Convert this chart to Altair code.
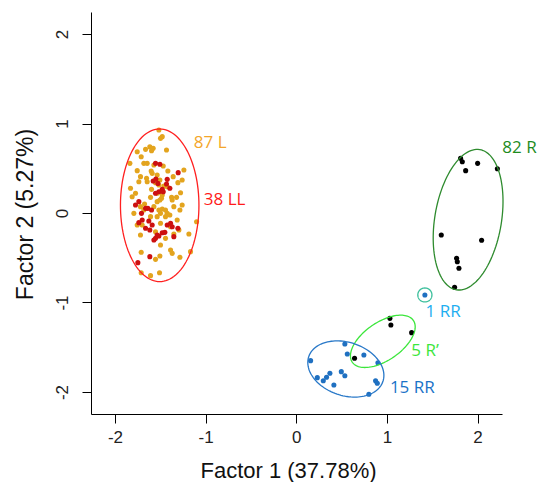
import altair as alt
import pandas as pd
import numpy as np

# ---- data ----
# 87 L (orange)
l_x = [-1.516, -1.479, -1.498, -1.616, -1.579, -1.597, -1.663, -1.432, -1.755, -1.711,
       -1.836, -1.682, -1.645, -1.571, -1.468, -1.240, -1.755, -1.601, -1.417, -1.535,
       -1.652, -1.505, -1.259, -1.306, -1.737, -1.645, -1.553, -1.829, -1.597, -1.535,
       -1.277, -1.479, -1.376, -1.487, -1.811, -1.608, -1.369, -1.505, -1.535, -1.719,
       -1.674, -1.259, -1.351, -1.516, -1.479, -1.443, -1.424, -1.498, -1.792, -1.608,
       -1.395, -1.314, -1.100, -1.755, -1.700, -1.387, -1.553, -1.498, -1.443, -1.351,
       -1.185, -1.719, -1.387, -1.369, -1.505, -1.711, -1.553, -1.284, -1.167, -1.711,
       -1.608, -1.509, -1.516, -1.461, -1.571, -1.443, -1.535, -1.682, -1.284, -1.774,
       -1.424, -1.498, -1.295, -1.590, -1.358, -1.719, -1.321]
l_y = [0.927, 0.853, 0.834, 0.741, 0.723, 0.696, 0.711, 0.704, 0.685, 0.629,
       0.555, 0.555, 0.555, 0.536, 0.525, 0.480, 0.473, 0.469, 0.469, 0.425,
       0.387, 0.369, 0.369, 0.339, 0.350, 0.350, 0.339, 0.276, 0.264, 0.220,
       0.227, 0.201, 0.175, 0.164, 0.182, 0.175, 0.145, 0.145, 0.127, 0.071,
       0.101, 0.089, 0.071, 0.034, 0.045, 0.034, -0.004, -0.004, -0.004, -0.041,
       -0.022, -0.078, -0.097, -0.134, -0.134, -0.153, -0.209, -0.358, -0.283, -0.235,
       -0.235, -0.246, -0.413, -0.451, -0.480, -0.439, -0.518, -0.495, -0.432, -0.667,
       -0.700, -0.667, 0.313, 0.302, 0.071, -0.041, -0.041, 0.034, 0.034, 0.220,
       0.294, -0.115, -0.190, 0.443, 0.406, 0.406, 0.175]
# 38 LL (red)
ll_x = [-1.553, -1.505, -1.303, -1.549, -1.527, -1.479, -1.395, -1.516, -1.553, -1.737,
        -1.774, -1.638, -1.597, -1.708, -1.627, -1.737, -1.424, -1.479, -1.369, -1.663,
        -1.616, -1.351, -1.450, -1.516, -1.553, -1.616, -1.748, -1.579, -1.432, -1.468,
        -1.663, -1.387, -1.535, -1.590, -1.700, -1.424, -1.306, -1.571]
ll_y = [0.555, 0.544, 0.451, 0.380, 0.331, 0.264, 0.276, 0.238, 0.220, 0.127,
        0.089, 0.052, 0.034, -0.004, -0.089, -0.108, -0.134, -0.220, -0.153, -0.171,
        -0.190, -0.264, -0.216, -0.257, -0.283, -0.488, -0.555, 0.358, 0.324, 0.238,
        0.052, -0.115, -0.246, -0.134, -0.078, 0.376, -0.171, -0.302]
# 82 R (black)
r_x = [1.813, 1.832, 1.869, 2.001, 2.219, 1.600, 2.045, 1.769, 1.777, 1.795, 1.747]
r_y = [0.611, 0.573, 0.473, 0.555, 0.495, -0.246, -0.305, -0.506, -0.544, -0.618, -0.830]
# 5 R' (black)
rp_x = [1.033, 1.044, 1.273, 0.643]
rp_y = [-1.177, -1.251, -1.337, -1.623]
# 15 RR (blue)
rr_x = [0.536, 0.563, 0.746, 0.901, 0.158, 0.371, 0.334, 0.497, 0.536, 0.232,
        0.298, 0.415, 0.875, 0.894, 0.801]
rr_y = [-1.464, -1.575, -1.587, -1.673, -1.650, -1.791, -1.836, -1.773, -1.818, -1.840,
        -1.874, -1.922, -1.874, -1.903, -2.026]
# 1 RR (blue)
rr1_x = [1.419]
rr1_y = [-0.916]

point_colors = {"L": "#E3A41E", "LL": "#CC1010", "R": "#000000", "Rp": "#000000",
                "RR": "#1F70C1", "RR1": "#1F70C1"}

# ellipses: centre, semi-axes, angle of major axis (deg)
ell_names = ["LL", "R", "Rp", "RR", "RR1"]
ell_cx = [-1.507, 1.896, 0.955, 0.547, 1.419]
ell_cy = [0.086, -0.075, -1.434, -1.743, -0.916]
ell_a = [0.853, 0.794, 0.41, 0.432, 0.078]
ell_b = [0.433, 0.368, 0.212, 0.297, 0.078]
ell_angle = [90, 80.7, 35, -19, 0]
ell_color = ["#FF2020", "#2E8B2E", "#3CE63C", "#2878C8", "#3CBF9C"]

# labels
lab_text = ["87 L", "38 LL", "82 R", "1 RR", "5 R\u2019", "15 RR"]
lab_x = [-1.130, -1.020, 2.274, 1.427, 1.269, 1.033]
lab_y = [0.785, 0.145, 0.723, -1.103, -1.542, -1.959]
lab_color = ["#F4A62A", "#FF1A1A", "#1E8C1E", "#1EAEF0", "#3CE63C", "#1A73C8"]

x_ticks = [-2, -1, 0, 1, 2]
y_ticks = [-2, -1, 0, 1, 2]

# ---- tables ----
rows = []
for g, xs_, ys_ in [("L", l_x, l_y), ("LL", ll_x, ll_y), ("R", r_x, r_y),
                    ("Rp", rp_x, rp_y), ("RR", rr_x, rr_y), ("RR1", rr1_x, rr1_y)]:
    for xv, yv in zip(xs_, ys_):
        rows.append({"x": xv, "y": yv, "g": g, "c": point_colors[g]})
pts = pd.DataFrame(rows)

erows = []
t = np.linspace(0, 2 * np.pi, 121)
for n, cx, cy, a, b, ang, col in zip(ell_names, ell_cx, ell_cy, ell_a, ell_b, ell_angle, ell_color):
    th = np.deg2rad(ang)
    ex = cx + a * np.cos(th) * np.cos(t) - b * np.sin(th) * np.sin(t)
    ey = cy + a * np.sin(th) * np.cos(t) + b * np.cos(th) * np.sin(t)
    for i, (xv, yv) in enumerate(zip(ex, ey)):
        erows.append({"x": xv, "y": yv, "e": n, "i": i, "c": col})
ell = pd.DataFrame(erows)

labs = pd.DataFrame({"x": lab_x, "y": lab_y, "t": lab_text, "c": lab_color})

xs = alt.Scale(domain=[-2.265, 2.27], nice=False, zero=False)
ys = alt.Scale(domain=[-2.246, 2.246], nice=False, zero=False)

xax = alt.Axis(values=x_ticks, grid=False, title="Factor 1 (37.78%)",
               labelExpr="datum.value + ''", labelFontSize=17,
               tickSize=9, labelPadding=6, titleX=197, titleY=56, titleBaseline="middle",
               titleFontSize=22)
yax = alt.Axis(values=y_ticks, grid=False, title="Factor 2 (5.27%)",
               labelExpr="datum.value + ''", labelFontSize=17,
               tickSize=9, labelAngle=270, labelAlign="center", labelBaseline="bottom",
               labelPadding=11, titleX=-66, titleY=202, titleBaseline="middle", titleAngle=270,
               titleFontSize=23)

points = alt.Chart(pts).mark_circle(size=26, opacity=1).encode(
    x=alt.X("x:Q", scale=xs, axis=xax),
    y=alt.Y("y:Q", scale=ys, axis=yax),
    color=alt.Color("c:N", scale=None),
)

ellipses = alt.Chart(ell).mark_line(strokeWidth=1.3).encode(
    x=alt.X("x:Q", scale=xs),
    y=alt.Y("y:Q", scale=ys),
    detail="e:N",
    order="i:Q",
    color=alt.Color("c:N", scale=None),
)

texts = alt.Chart(labs).mark_text(align="left", baseline="middle", font="Open Sans",
                                  fontSize=17).encode(
    x=alt.X("x:Q", scale=xs),
    y=alt.Y("y:Q", scale=ys),
    text="t:N",
    color=alt.Color("c:N", scale=None),
)

chart = alt.layer(points, ellipses, texts).properties(
    width=411, height=402,
    autosize=alt.AutoSizeParams(type="none"),
    padding={"left": 91, "top": 12, "right": 36, "bottom": 68},
    background="white",
).configure_view(stroke="transparent").configure_axis(
    domainColor="#000000", tickColor="#000000", domainWidth=1, tickWidth=1,
    labelFont="Liberation Sans", labelColor="#222222",
    titleFont="Liberation Sans", titleFontWeight="normal", titleColor="#111111",
)

chart.save("out.html", embed_options={"renderer": "svg", "actions": False})
